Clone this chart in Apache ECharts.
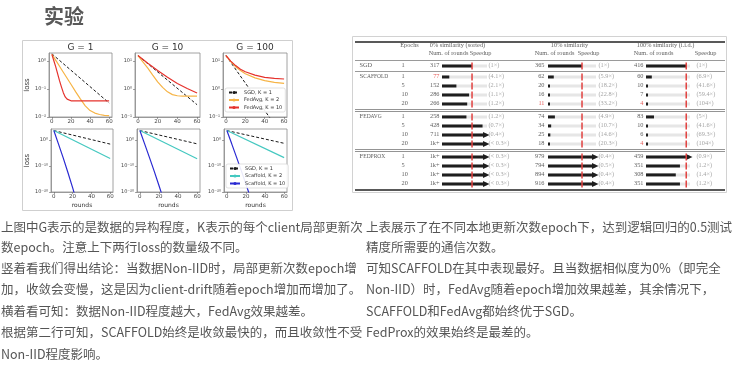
<!DOCTYPE html>
<html><head><meta charset="utf-8">
<script src="https://cdn.jsdelivr.net/npm/echarts@6.0.0/dist/echarts.min.js"></script>
<style>html,body{margin:0;padding:0;background:#fff;}#c{width:750px;height:389px;}</style>
</head><body><div id="c"></div>
<script>
// ================= DATA: figure (values are log10(loss) vs rounds) =================
const roundTicks = [0, 20, 40, 60];
const fedavgTicks = [[-2, -1, 0], [-1, 0, 1], [-1, 0, 1]];
const scaffoldTicks = [-20, -10, 0];
const plotTitles = ['G = 1', 'G = 10', 'G = 100'];
const legendTop = ['SGD, K = 1', 'FedAvg, K = 2', 'FedAvg, K = 10'];
const legendBottom = ['SGD, K = 1', 'Scaffold, K = 2', 'Scaffold, K = 10'];

const fa_g1_sgd = [[0, 0.26], [60, -1.5]];
const fa_g1_k2 = [[0, 0.24], [5, -0.02], [10, -0.29], [15, -0.56], [20, -0.83], [25, -1.1], [30, -1.36], [35, -1.6], [40, -1.77], [45, -1.86], [50, -1.91], [55, -1.94], [60, -1.95]];
const fa_g1_k10 = [[0, 0.24], [2, 0.02], [4, -0.2], [6, -0.45], [8, -0.7], [10, -0.92], [12, -1.13], [14, -1.28], [16, -1.36], [18, -1.4], [20, -1.42], [30, -1.42], [40, -1.42], [50, -1.42], [60, -1.42]];
const fa_g10_sgd = [[0, 1.2], [60, -0.56]];
const fa_g10_k2 = [[0, 1.2], [5, 0.97], [10, 0.75], [15, 0.5], [20, 0.26], [25, 0.06], [30, -0.1], [35, -0.2], [40, -0.24], [45, -0.25], [50, -0.25], [60, -0.25]];
const fa_g10_k10 = [[0, 1.2], [10, 0.92], [20, 0.66], [30, 0.42], [40, 0.2], [50, 0.02], [60, -0.14]];
const fa_g100_sgd = [[0, 1.2], [60, -1.75]];
const fa_g100_k2 = [[0, 1.2], [5, 0.98], [10, 0.8], [15, 0.66], [20, 0.55], [30, 0.4], [40, 0.3], [50, 0.24], [60, 0.2]];
const fa_g100_k10 = [[0, 1.2], [5, 1.0], [10, 0.84], [15, 0.71], [20, 0.62], [30, 0.5], [40, 0.42], [50, 0.38], [60, 0.36]];

const sc_g1_sgd = [[0, 3.6], [60, -1.6]];
const sc_g1_k2 = [[0, 3.6], [60, -7.1]];
const sc_g1_k10 = [[0, 3.6], [5, -1.6], [10, -6.9], [15, -12.5], [20, -18.3], [23, -22]];
const sc_g10_sgd = [[0, 3.6], [60, -1.5]];
const sc_g10_k2 = [[0, 3.6], [60, -7.2]];
const sc_g10_k10 = [[0, 3.6], [5, -1.5], [10, -6.7], [15, -12.0], [20, -17.5], [24, -22]];
const sc_g100_sgd = [[0, 3.6], [60, -1.3]];
const sc_g100_k2 = [[0, 3.6], [60, -6.8]];
const sc_g100_k10 = [[0, 3.6], [5, -1.4], [10, -6.5], [15, -11.7], [20, -17.0], [25, -22.4]];

// ================= DATA: table =================
const methodNames = ['SGD', 'SCAFFOLD', 'FEDAVG', 'FEDPROX'];
const methodOfRow = [0, 1, 1, 1, 1, 2, 2, 2, 2, 3, 3, 3, 3];
const epochs = ['1', '1', '5', '10', '20', '1', '5', '10', '20', '1', '5', '10', '20'];
const groupHeaders = ['0% similarity (sorted)', '10% similarity', '100% similarity (i.i.d.)'];
const subHeaders = ['Num. of rounds', 'Speedup'];
const epochHeader = 'Epochs';

const rounds0 = [317, 77, 152, 286, 266, 258, 428, 711, 1000, 1000, 1000, 1000, 1000];
const rounds0Text = ['317', '77', '152', '286', '266', '258', '428', '711', '1k+', '1k+', '1k+', '1k+', '1k+'];
const speedup0 = ['1×', '4.1×', '2.1×', '1.1×', '1.2×', '1.2×', '0.7×', '0.4×', '< 0.3×', '< 0.3×', '< 0.3×', '< 0.3×', '< 0.3×'];
const rounds10 = [365, 62, 20, 16, 11, 74, 34, 25, 18, 979, 794, 894, 916];
const rounds10Text = ['365', '62', '20', '16', '11', '74', '34', '25', '18', '979', '794', '894', '916'];
const speedup10 = ['1×', '5.9×', '18.2×', '22.8×', '33.2×', '4.9×', '10.7×', '14.6×', '20.3×', '0.4×', '0.5×', '0.4×', '0.4×'];
const rounds100 = [416, 60, 10, 7, 4, 83, 10, 6, 4, 459, 351, 308, 351];
const rounds100Text = ['416', '60', '10', '7', '4', '83', '10', '6', '4', '459', '351', '308', '351'];
const speedup100 = ['1×', '6.9×', '41.6×', '59.4×', '104×', '5×', '41.6×', '69.3×', '104×', '0.9×', '1.2×', '1.4×', '1.2×'];
const best0 = [1];
const best10 = [4];
const best100 = [4, 8];

// ================= DATA: text =================
const pageTitle = '实验';
const leftText = [
  '上图中G表示的是数据的异构程度，K表示的每个client局部更新次',
  '数epoch。注意上下两行loss的数量级不同。',
  '竖着看我们得出结论：当数据Non-IID时，局部更新次数epoch增',
  '加，收敛会变慢，这是因为client-drift随着epoch增加而增加了。',
  '横着看可知：数据Non-IID程度越大，FedAvg效果越差。',
  '根据第二行可知，SCAFFOLD始终是收敛最快的，而且收敛性不受',
  'Non-IID程度影响。'
];
const rightText = [
  '上表展示了在不同本地更新次数epoch下，达到逻辑回归的0.5测试',
  '精度所需要的通信次数。',
  '可知SCAFFOLD在其中表现最好。且当数据相似度为0%（即完全',
  'Non-IID）时，FedAvg随着epoch增加效果越差，其余情况下，',
  'SCAFFOLD和FedAvg都始终优于SGD。',
  'FedProx的效果始终是最差的。'
];

// ================= LAYOUT / STYLE =================
const SUP = {'0':'⁰','1':'¹','2':'²','3':'³','4':'⁴','5':'⁵','6':'⁶','7':'⁷','8':'⁸','9':'⁹','-':'⁻'};
const pow10 = v => '10' + String(Math.round(v)).split('').map(c => SUP[c]).join('');
const C = {sgd: '#1a1a1a', faK2: '#f6b446', faK10: '#e5322d', scK2: '#44c8c0', scK10: '#2a2ad2'};
const plotFont = '"DejaVu Sans", sans-serif';
const cjk = '"Noto Sans CJK SC", sans-serif';
const serif = '"Liberation Serif", "DejaVu Serif", serif';

const topRow = {top: 53, height: 64, cols: [[49, 63], [135, 65], [223, 64]], ranges: [[-2, 0.29], [-1, 1.29], [-1, 1.29]]};
const botRow = {top: 129, height: 63, cols: [[51, 62], [137, 63], [224, 63]], range: [-20, 4.2]};

const grid = [], xAxis = [], yAxis = [], series = [], graphic = [];

function addPlot(idx, left, top, w, h, ymin, ymax, yticks, isBottom, firstCol) {
  grid.push({left, top, width: w, height: h, show: true, borderColor: '#8a8a8a', borderWidth: 0.8, containLabel: false});
  xAxis.push({
    gridIndex: idx, type: 'value', min: -3, max: 63, position: 'bottom',
    axisLine: {show: true, onZero: false, lineStyle: {color: '#8a8a8a', width: 0.8}},
    axisTick: {show: true, customValues: roundTicks, length: 2, lineStyle: {color: '#666', width: 0.6}},
    axisLabel: {customValues: roundTicks, fontSize: 5.5, color: '#444', margin: 2, fontFamily: plotFont},
    splitLine: {show: false},
    name: isBottom ? 'rounds' : '', nameLocation: 'middle', nameGap: 10,
    nameTextStyle: {fontSize: 6, color: '#333', fontFamily: plotFont}
  });
  yAxis.push({
    gridIndex: idx, type: 'value', min: ymin, max: ymax, position: 'left',
    axisLine: {show: true, onZero: false, lineStyle: {color: '#8a8a8a', width: 0.8}},
    axisTick: {show: true, customValues: yticks, length: 2, lineStyle: {color: '#666', width: 0.6}},
    axisLabel: {customValues: yticks, formatter: pow10, fontSize: 5, color: '#444', margin: 3, fontFamily: plotFont},
    splitLine: {show: false},
    name: firstCol ? 'loss' : '', nameLocation: 'middle', nameGap: 17, nameRotate: 90,
    nameTextStyle: {fontSize: 7, color: '#333', fontFamily: plotFont}
  });
}
function addLine(idx, name, data, color, dashed) {
  series.push({
    type: 'line', name, xAxisIndex: idx, yAxisIndex: idx, data, symbol: 'none', silent: true,
    lineStyle: {color, width: dashed ? 1 : 1.2, type: dashed ? [3, 2] : 'solid'}, itemStyle: {color}, clip: true
  });
}

const faData = [[fa_g1_sgd, fa_g1_k2, fa_g1_k10], [fa_g10_sgd, fa_g10_k2, fa_g10_k10], [fa_g100_sgd, fa_g100_k2, fa_g100_k10]];
const scData = [[sc_g1_sgd, sc_g1_k2, sc_g1_k10], [sc_g10_sgd, sc_g10_k2, sc_g10_k10], [sc_g100_sgd, sc_g100_k2, sc_g100_k10]];

for (let c = 0; c < 3; c++) {
  const [l, w] = topRow.cols[c];
  addPlot(c, l, topRow.top, w, topRow.height, topRow.ranges[c][0], topRow.ranges[c][1], fedavgTicks[c], false, c === 0);
  addLine(c, legendTop[0], faData[c][0], C.sgd, true);
  addLine(c, legendTop[1], faData[c][1], C.faK2, false);
  addLine(c, legendTop[2], faData[c][2], C.faK10, false);
  graphic.push({type: 'text', x: l + w / 2, y: 48, silent: true,
    style: {text: plotTitles[c], font: '9px ' + plotFont, fill: '#333', align: 'center', verticalAlign: 'middle'}});
}
for (let c = 0; c < 3; c++) {
  const [l, w] = botRow.cols[c];
  addPlot(3 + c, l, botRow.top, w, botRow.height, botRow.range[0], botRow.range[1], scaffoldTicks, true, c === 0);
  addLine(3 + c, legendBottom[0], scData[c][0], C.sgd, true);
  addLine(3 + c, legendBottom[1], scData[c][1], C.scK2, false);
  addLine(3 + c, legendBottom[2], scData[c][2], C.scK10, false);
}

// ================= TABLE =================
const T = {left: 355, right: 725, top: 39, height: 153, ymin: -3, ymax: 14};
// row position (in row units) with extra spacing between method groups
const rowPos = i => i + (i >= 1 ? 0.22 : 0) + (i >= 5 ? 0.44 : 0) + (i >= 9 ? 0.44 : 0);
const tableY = idx => ({gridIndex: idx, type: 'value', inverse: true, min: T.ymin, max: T.ymax, show: false});

// text grid (x axis in page pixels)
grid.push({left: 0, width: 750, top: T.top, height: T.height, show: false});
xAxis.push({gridIndex: 6, type: 'value', min: 0, max: 750, show: false});
yAxis.push(tableY(6));

const col = {method: 360, epoch: 402, epochHead: 410,
  num: [440, 545, 644], speed: [489, 599, 697],
  group: [458, 570, 666], numHead: [449, 555, 654], speedHead: [481, 589, 706]};
const groups = [
  {rounds: rounds0, text: rounds0Text, speed: speedup0, best: best0, max: 475, left: 442, width: 45},
  {rounds: rounds10, text: rounds10Text, speed: speedup10, best: best10, max: 515, left: 548, width: 48},
  {rounds: rounds100, text: rounds100Text, speed: speedup100, best: best100, max: 455, left: 646, width: 44}
];

const txt = [];
const baseLabel = (text, align, color, size, extra) => Object.assign({show: true, formatter: text, position: [0, 0], align, verticalAlign: 'middle',
  color, fontSize: size, fontFamily: serif}, extra || {});
const addTxt = (x, y, text, align, color, size, extra) => txt.push({value: [x, y], label: baseLabel(text, align, color, size, extra)});

const H1 = -2.2, H2 = -1.3;
addTxt(col.epochHead, H1, epochHeader, 'center', '#333', 6.3);
for (let g = 0; g < 3; g++) {
  addTxt(col.group[g], H1, groupHeaders[g], 'center', '#333', 6.3);
  addTxt(col.numHead[g], H2, subHeaders[0], 'center', '#333', 6.3);
  addTxt(col.speedHead[g], H2, subHeaders[1], 'center', '#333', 6.3);
}
const smallCaps = name => name === 'SGD' ? name : '{a|' + name[0] + '}{b|' + name.slice(1) + '}';
for (let i = 0; i < epochs.length; i++) {
  const y = rowPos(i);
  if (i === 0 || methodOfRow[i] !== methodOfRow[i - 1]) {
    addTxt(col.method, y, smallCaps(methodNames[methodOfRow[i]]), 'left', '#333', 6.3,
      {rich: {a: {fontSize: 6.8, fontFamily: serif, color: '#333'}, b: {fontSize: 5.5, fontFamily: serif, color: '#333'}}});
  }
  addTxt(col.epoch, y, epochs[i], 'left', '#333', 6.3);
  for (let g = 0; g < 3; g++) {
    const G = groups[g];
    const isBest = G.best.indexOf(i) >= 0;
    addTxt(col.num[g], y, G.text[i], 'right', isBest ? '#e0302c' : '#333', 6.3);
    addTxt(col.speed[g], y, '(' + G.speed[i] + ')', 'left', '#8c8c8c', 6.3);
  }
}
const rule = (pos, width, color) => [{coord: [T.left, pos], lineStyle: {width, color, type: 'solid'}}, {coord: [T.right, pos]}];
series.push({
  type: 'scatter', xAxisIndex: 6, yAxisIndex: 6, symbol: 'circle', symbolSize: 1, silent: true,
  itemStyle: {color: 'rgba(0,0,0,0)'}, data: txt,
  markLine: {silent: true, symbol: ['none', 'none'], label: {show: false}, animation: false,
    data: [rule(-2.75, 1.5, '#222'), rule(-0.67, 0.6, '#555'), rule(0.6, 0.6, '#555'),
      rule(4.83, 0.7, '#666'), rule(5.05, 0.7, '#666'), rule(9.27, 0.7, '#666'), rule(9.49, 0.7, '#666'),
      rule(13.72, 1.5, '#222')]}
});

// bar grids
groups.forEach((G, g) => {
  const gi = 7 + g;
  grid.push({left: G.left, width: G.width, top: T.top, height: T.height, show: false});
  xAxis.push({gridIndex: gi, type: 'value', min: 0, max: G.max, show: false});
  yAxis.push(tableY(gi));
  const sgdVal = G.rounds[0];
  series.push({
    type: 'custom', xAxisIndex: gi, yAxisIndex: gi, silent: true,
    data: G.rounds.map((v, i) => [v, rowPos(i)]),
    renderItem: (params, api) => {
      const v = api.value(0), y = api.value(1);
      const s = api.coord([0, y]), e = api.coord([G.max, y]);
      const capped = v > G.max;
      const ve = api.coord([Math.min(v, G.max), y]);
      const t = api.coord([sgdVal, y]);
      const cy = s[1];
      const children = [
        {type: 'rect', shape: {x: s[0], y: cy - 1.5, width: e[0] - s[0], height: 3}, style: {fill: '#e6e6e6'}},
        {type: 'rect', shape: {x: s[0], y: cy - 1.5, width: Math.max(capped ? e[0] - s[0] - 3 : ve[0] - s[0], 2), height: 3}, style: {fill: '#1e1e1e'}}
      ];
      if (capped) children.push({type: 'polygon', shape: {points: [[e[0] - 4, cy - 3], [e[0] + 2.5, cy], [e[0] - 4, cy + 3]]}, style: {fill: '#1e1e1e'}});
      children.push({type: 'rect', shape: {x: t[0] - 0.75, y: cy - 3.5, width: 1.5, height: 7}, style: {fill: '#e2413f'}});
      return {type: 'group', children};
    }
  });
});

// ================= GRAPHIC TEXT / FRAMES =================
graphic.push({type: 'text', x: 44, y: 16, silent: true, style: {text: pageTitle, font: 'bold 20px ' + cjk, fill: '#595959', verticalAlign: 'middle'}});
graphic.push({type: 'rect', silent: true, z: -1, shape: {x: 22.5, y: 40.5, width: 270, height: 170}, style: {fill: 'none', stroke: '#cfcfcf', lineWidth: 1}});
graphic.push({type: 'rect', silent: true, z: -1, shape: {x: 352.5, y: 36.5, width: 374, height: 156}, style: {fill: 'none', stroke: '#d2d2d2', lineWidth: 1}});
const lineY = [227, 247, 268, 289.5, 311, 332.5, 354];
leftText.forEach((t, i) => graphic.push({type: 'text', x: 1, y: lineY[i], silent: true,
  style: {text: t, font: '12.5px ' + cjk, fill: '#555', verticalAlign: 'middle'}}));
rightText.forEach((t, i) => graphic.push({type: 'text', x: 366, y: lineY[i], silent: true,
  style: {text: t, font: '12.5px ' + cjk, fill: '#555', verticalAlign: 'middle'}}));

const legendStyle = {orient: 'vertical', itemWidth: 10, itemHeight: 4, itemGap: 2.5, padding: [2, 3],
  backgroundColor: 'rgba(255,255,255,0.9)', borderColor: '#cccccc', borderWidth: 0.6, borderRadius: 2,
  textStyle: {fontSize: 5, color: '#333', fontFamily: plotFont}, selectedMode: false};

const chart = echarts.init(document.getElementById('c'));
chart.setOption({
  animation: false,
  backgroundColor: '#fff',
  legend: [
    Object.assign({data: legendTop, left: 225, top: 88}, legendStyle),
    Object.assign({data: legendBottom, left: 226, top: 164}, legendStyle)
  ],
  grid, xAxis, yAxis, series, graphic
});
</script></body></html>
